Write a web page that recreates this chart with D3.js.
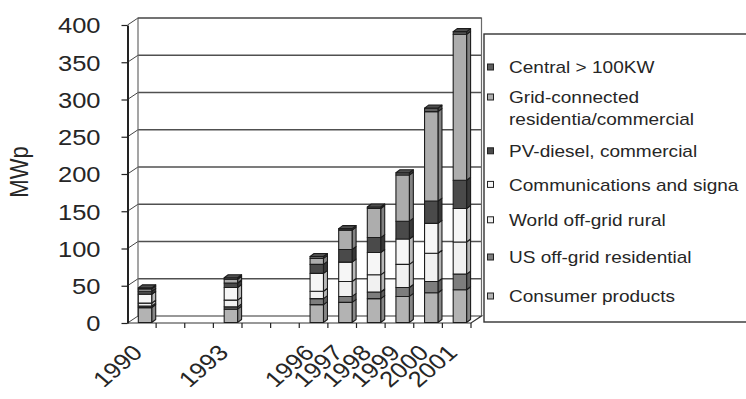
<!DOCTYPE html>
<html>
<head>
<meta charset="utf-8">
<script src="https://cdn.jsdelivr.net/npm/d3@7"></script>
<style>
  html, body { margin: 0; padding: 0; background: #fff; }
  svg { display: block; }
  text { font-family: "Liberation Sans", Arial, sans-serif; fill: #262626; }
</style>
</head>
<body>
<svg id="chart" width="746" height="399"></svg>
<script>
// ---- data -------------------------------------------------------------
const years = ["1990", "1991", "1992", "1993", "1994", "1995", "1996", "1997", "1998", "1999", "2000", "2001"];
const yearLabels = ["1990", "", "", "1993", "", "", "1996", "1997", "1998", "1999", "2000", "2001"];

// stacked series, bottom to top (MWp); null = no data for that year
const consumerProducts   = [20,   null, null, 18,  null, null, 24,  27,  32,  35,  40,  44];
const usOffGridResid     = [2,    null, null, 3,   null, null, 8,   8,   9,   12,  15,  21];
const worldOffGridRural  = [4,    null, null, 9,   null, null, 10,  20,  23,  31,  38,  43];
const communications     = [12,   null, null, 17,  null, null, 24,  26,  30,  34,  40,  45];
const pvDieselCommercial = [4,    null, null, 6,   null, null, 12,  17,  20,  24,  30,  38];
const gridConnected      = [3,    null, null, 5,   null, null, 8,   26,  39,  62,  120, 196];
const central100kW       = [1.5,  null, null, 2,   null, null, 2.6, 2,   2,   3,   4.7, 3.5];

const seriesKeys = ["consumer", "usOffGrid", "worldOffGrid", "comms", "pvDiesel", "grid", "central"];
const seriesNames = [
  "Consumer products",
  "US off-grid residential",
  "World off-grid rural",
  "Communications and signa",
  "PV-diesel, commercial",
  "Grid-connected\nresidentia/commercial",
  "Central > 100KW"
];
const seriesValues = [consumerProducts, usOffGridResid, worldOffGridRural, communications,
                      pvDieselCommercial, gridConnected, central100kW];
const seriesColors = ["#b3b3b3", "#7d7d7d", "#f1f1f1", "#f6f6f6", "#4a4a4a", "#adadad", "#5e5e5e"];

const yTicks = [0, 50, 100, 150, 200, 250, 300, 350, 400];
const yTitle = "MWp";

// ---- layout -----------------------------------------------------------
const sx = 1.16;                       // horizontal text stretch
const sxLegend = 1.12;
const svg = d3.select("#chart");
const x = d3.scaleBand().domain(years).range([127.5, 471]);
const y = d3.scaleLinear().domain([0, 400]).range([323, 25]);
const X0 = x.range()[0], X1 = x.range()[1];
const wall = { dx: 10.5, dy: -7 };     // depth of the back wall
const bar = { w: 13.4, shift: 3.2, lift: -0.5, dx: 4, dy: -3 };

// rows for stacking
const rows = years.map((yr, i) => {
  const r = { year: yr };
  seriesKeys.forEach((k, j) => r[k] = seriesValues[j][i]);
  return r;
}).filter(r => r.consumer != null);
const stacked = d3.stack().keys(seriesKeys)(rows);
const colorOf = d3.scaleOrdinal().domain(seriesKeys).range(seriesColors);

// ---- walls & floor ----------------------------------------------------
const walls = svg.append("g").attr("fill", "none");
walls.append("path")     // back wall + left wall fill
  .attr("d", `M${X0},${y(0)} L${X0},${y(400)} L${X0 + wall.dx},${y(400) + wall.dy}
              L${X1 + wall.dx},${y(400) + wall.dy} L${X1 + wall.dx},${y(0) + wall.dy} L${X1},${y(0)} Z`)
  .attr("fill", "#fff");

walls.selectAll("line.grid").data(yTicks.slice(1, -1)).join("line")
  .attr("class", "grid")
  .attr("x1", X0 + wall.dx).attr("x2", X1 + wall.dx)
  .attr("y1", d => y(d) + wall.dy).attr("y2", d => y(d) + wall.dy)
  .attr("stroke", "#505050").attr("stroke-width", 1.3);

walls.selectAll("line.diag").data(yTicks).join("line")
  .attr("class", "diag")
  .attr("x1", X0).attr("y1", d => y(d))
  .attr("x2", X0 + wall.dx).attr("y2", d => y(d) + wall.dy)
  .attr("stroke", "#444").attr("stroke-width", 1);

// wall edges
walls.append("path")
  .attr("d", `M${X0 + wall.dx},${y(0) + wall.dy} L${X0 + wall.dx},${y(400) + wall.dy}
              L${X1 + wall.dx},${y(400) + wall.dy} L${X1 + wall.dx},${y(0) + wall.dy}`)
  .attr("stroke", "#6a6a6a").attr("stroke-width", 1.2);
walls.append("line")
  .attr("x1", X0 + wall.dx).attr("x2", X1 + wall.dx)
  .attr("y1", y(400) + wall.dy).attr("y2", y(400) + wall.dy)
  .attr("stroke", "#333").attr("stroke-width", 1.2);
// floor
walls.append("path")
  .attr("d", `M${X0 + wall.dx},${y(0) + wall.dy} L${X1 + wall.dx},${y(0) + wall.dy} L${X1},${y(0)} L${X0},${y(0)}`)
  .attr("stroke", "#333").attr("stroke-width", 1.2);

// ---- bars -------------------------------------------------------------
const barG = svg.append("g").attr("stroke", "#1c1c1c").attr("stroke-width", 1.1).attr("stroke-linejoin", "round");
rows.forEach((row, ri) => {
  const left = x(row.year) + x.bandwidth() / 2 + bar.shift - bar.w / 2;
  const right = left + bar.w;
  const g = barG.append("g");
  stacked.forEach(layer => {
    const seg = layer[ri];
    const yTop = y(seg[1]) + bar.lift, yBot = y(seg[0]) + bar.lift;
    const c = colorOf(layer.key);
    g.append("path")   // side face
      .attr("d", `M${right},${yBot} L${right + bar.dx},${yBot + bar.dy} L${right + bar.dx},${yTop + bar.dy} L${right},${yTop} Z`)
      .attr("fill", d3.color(c).darker(0.8));
    g.append("rect")   // front face
      .attr("x", left).attr("y", yTop).attr("width", bar.w).attr("height", yBot - yTop)
      .attr("fill", c);
  });
  const topLayer = stacked[stacked.length - 1][ri];
  const yT = y(topLayer[1]) + bar.lift;
  g.append("path")     // top face
    .attr("d", `M${left},${yT} L${left + bar.dx},${yT + bar.dy} L${right + bar.dx},${yT + bar.dy} L${right},${yT} Z`)
    .attr("fill", d3.color(colorOf(stacked[stacked.length - 1].key)).darker(0.5));
});

// ---- y axis -----------------------------------------------------------
const yAxis = svg.append("g")
  .attr("transform", `translate(${X0},0)`)
  .call(d3.axisLeft(y).tickValues(yTicks).tickSize(6).tickSizeOuter(0).tickPadding(0));
yAxis.select(".domain").attr("stroke", "#222").attr("stroke-width", 2);
yAxis.selectAll(".tick line").attr("stroke", "#222").attr("stroke-width", 1.2);
yAxis.selectAll(".tick text")
  .attr("x", -27 / sx).attr("dy", "0.36em")
  .attr("transform", `scale(${sx},1)`)
  .style("font-size", "22px").attr("fill", "#262626");

svg.append("text")
  .attr("transform", `translate(28,172) scale(${sx},1) rotate(-90)`)
  .attr("text-anchor", "middle")
  .style("font-size", "22px")
  .text(yTitle);

// ---- x axis -----------------------------------------------------------
svg.append("g").selectAll("line").data(years).join("line")
  .attr("x1", d => x(d) + x.bandwidth()).attr("x2", d => x(d) + x.bandwidth())
  .attr("y1", y(0)).attr("y2", y(0) + 5)
  .attr("stroke", "#222").attr("stroke-width", 1.2);

svg.append("g").selectAll("text").data(years.filter((d, i) => yearLabels[i] !== "")).join("text")
  .attr("transform", d => `translate(${x(d) + x.bandwidth() / 2 + 2},354) scale(${sx},1) rotate(-45)`)
  .attr("text-anchor", "end")
  .style("font-size", "22px")
  .text(d => yearLabels[years.indexOf(d)]);

// ---- legend -----------------------------------------------------------
const legend = svg.append("g");
legend.append("rect")
  .attr("x", 484).attr("y", 34).attr("width", 300).attr("height", 288)
  .attr("fill", "none").attr("stroke", "#333").attr("stroke-width", 1.4);

const legendItems = seriesKeys.map((k, i) => ({ key: k, name: seriesNames[i] })).reverse();
const lineH = 22;
let cy = 67;
legendItems.forEach((item, i) => {
  const lines = item.name.split("\n");
  legend.append("rect")
    .attr("x", 487.5).attr("y", cy - 3).attr("width", 6).attr("height", 6)
    .attr("fill", colorOf(item.key)).attr("stroke", "#222").attr("stroke-width", 1);
  lines.forEach((ln, li) => {
    legend.append("text")
      .attr("transform", `translate(509,${cy + li * lineH}) scale(${sxLegend},1)`)
      .attr("dy", "0.36em")
      .style("font-size", "17px")
      .text(ln);
  });
  // entries spread slightly wider toward the bottom of the box
  cy += (lines.length - 1) * lineH + 30 + 1.8 * i;
});
</script>
</body>
</html>
